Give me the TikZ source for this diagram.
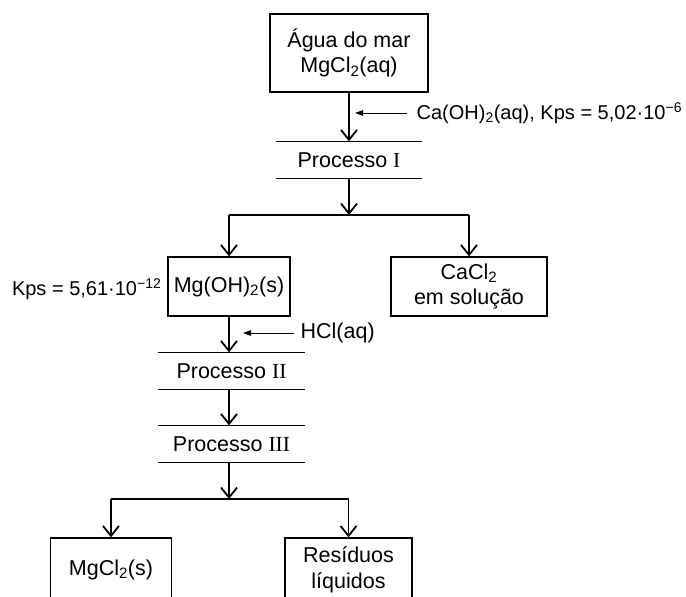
\documentclass[tikz,border=0pt]{standalone}
\usepackage{fontspec}
\setmainfont{Liberation Sans}
\newfontfamily\romfont{Liberation Serif}
\usetikzlibrary{arrows.meta}
\begin{document}
\begin{tikzpicture}[x=1pt,y=-1pt,
  font=\fontsize{21.5}{25.5}\selectfont,
  line width=1.3pt,
  box/.style={draw, inner sep=0pt, align=center},
  proc/.style={inner sep=0pt, minimum width=145pt, minimum height=36pt},
  flow/.style={-{Straight Barb[length=10pt,width=16pt,line width=1.8pt]}},
  feed/.style={line width=1pt, -{Triangle[length=8pt,width=5.5pt]}},
  lbl/.style={inner sep=0pt},
  kpslbl/.style={inner sep=0pt, font=\fontsize{20}{24}\selectfont}]
\useasboundingbox (0,0) rectangle (686,597);
\clip (0,0) rectangle (686,597);

% top box and Processo I
\node[box, minimum width=158pt, minimum height=78pt] (agua) at (349,53) {Água do mar\\MgCl\textsubscript{2}(aq)};
\node[proc] (p1) at (349,160) {Processo {\romfont I}};
\draw (p1.north west) -- (p1.north east) (p1.south west) -- (p1.south east);
\draw[flow] (agua.south) -- (p1.north);

\node[kpslbl, anchor=west] (caoh) at (416,113) {Ca(OH)\textsubscript{2}(aq), Kps = 5,02·10\textsuperscript{−6}};
\coordinate (caoh0) at (407,113);
\coordinate (caoh1) at (355,113);
\draw[feed] (caoh0) -- (caoh1);

% first branch
\coordinate (br1) at (349,215);
\draw[flow] (p1.south) -- (br1);
\node[box, minimum width=122pt, minimum height=59pt] (mg) at (229,286.5) {Mg(OH)\textsubscript{2}(s)};
\node[box, minimum width=156pt, minimum height=59pt] (ca) at (469,286.5) {CaCl\textsubscript{2}\\em solução};
\draw (mg.north |- br1) -- (ca.north |- br1);
\draw[flow] (mg.north |- br1) -- (mg.north);
\draw[flow] (ca.north |- br1) -- (ca.north);

\node[kpslbl, anchor=east] (kps) at (162,289) {Kps = 5,61·10\textsuperscript{−12}};

% Processo II and III
\node[proc] (p2) at (231.5,371) {Processo {\romfont II}};
\draw (p2.north west) -- (p2.north east) (p2.south west) -- (p2.south east);
\node[proc] (p3) at (231.5,444) {Processo {\romfont III}};
\draw (p3.north west) -- (p3.north east) (p3.south west) -- (p3.south east);
\draw[flow] (mg.south) -- (mg.south |- p2.north);
\draw[flow] (mg.south |- p2.south) -- (mg.south |- p3.north);

\node[lbl, anchor=west] (hcl) at (300,333) {HCl(aq)};
\coordinate (hcl0) at (294,333);
\coordinate (hcl1) at (243,333);
\draw[feed] (hcl0) -- (hcl1);

% second branch
\coordinate (br2) at (229,499);
\draw[flow] (mg.south |- p3.south) -- (br2);
\node[box, minimum width=121pt, minimum height=64pt] (mgcl) at (111,570) {MgCl\textsubscript{2}(s)};
\node[box, minimum width=127pt, minimum height=64pt] (res) at (348.5,570) {Resíduos\\líquidos};
\draw (mgcl.north |- br2) -- (res.north |- br2);
\draw[flow] (mgcl.north |- br2) -- (mgcl.north);
\draw[flow] (res.north |- br2) -- (res.north);
\end{tikzpicture}
\end{document}
